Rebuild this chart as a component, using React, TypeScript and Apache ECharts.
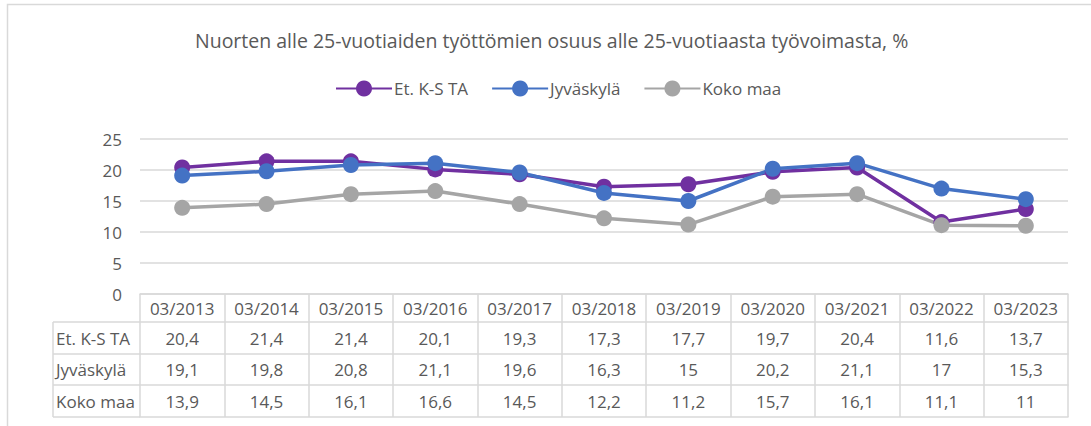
import React, { useEffect, useRef } from "react";
import * as echarts from "echarts";

const title = "Nuorten alle 25-vuotiaiden työttömien osuus alle 25-vuotiaasta työvoimasta, %";
const categories = ["03/2013", "03/2014", "03/2015", "03/2016", "03/2017", "03/2018", "03/2019", "03/2020", "03/2021", "03/2022", "03/2023"];
const seriesNames = ["Et. K-S TA", "Jyväskylä", "Koko maa"];
const etKsTa = [20.4, 21.4, 21.4, 20.1, 19.3, 17.3, 17.7, 19.7, 20.4, 11.6, 13.7];
const jyvaskyla = [19.1, 19.8, 20.8, 21.1, 19.6, 16.3, 15, 20.2, 21.1, 17, 15.3];
const kokoMaa = [13.9, 14.5, 16.1, 16.6, 14.5, 12.2, 11.2, 15.7, 16.1, 11.1, 11];
const yTicks = [0, 5, 10, 15, 20, 25];

const seriesData = [etKsTa, jyvaskyla, kokoMaa];
const colors = ["#7030A0", "#4472C4", "#A5A5A5"];

const FONT = "Open Sans";
const TXT = "#595959";
const BORDER = "#D9D9D9";
const W = 1091;
const H = 426;
const GRID_L = 140;
const GRID_R = 1068;
const GRID_T = 139;
const GRID_B = 294;
const HEADER_H = 28;
const ROW_OFFSETS = [28, 60, 91, 123];
const LABEL_COL_X = 53;

const fmt = (v: number) => String(v).replace(".", ",");

export default function App() {
  const ref = useRef<HTMLDivElement>(null);
  useEffect(() => {
    if (!ref.current) return;
    const chart = echarts.init(ref.current, undefined, { renderer: "svg" });

    const xAxes: any[] = [
      {
        type: "category",
        data: categories,
        position: "bottom",
        boundaryGap: true,
        axisLine: { show: true, lineStyle: { color: BORDER, width: 1.5 } },
        axisTick: { show: true, length: HEADER_H, inside: false, lineStyle: { color: BORDER, width: 1.5 } },
        axisLabel: { margin: 0, lineHeight: HEADER_H, color: TXT, fontFamily: FONT, fontSize: 17, interval: 0 },
      },
    ];
    seriesData.forEach((d, i) => {
      const rowH = ROW_OFFSETS[i + 1] - ROW_OFFSETS[i];
      xAxes.push({
        type: "category",
        data: d.map(fmt),
        position: "bottom",
        offset: ROW_OFFSETS[i],
        boundaryGap: true,
        axisLine: { show: true, lineStyle: { color: BORDER, width: 1.5 } },
        axisTick: { show: true, length: rowH, inside: false, lineStyle: { color: BORDER, width: 1.5 } },
        axisLabel: { margin: 0, lineHeight: rowH, color: TXT, fontFamily: FONT, fontSize: 17, interval: 0 },
        name: seriesNames[i],
        nameLocation: "start",
        nameGap: GRID_L - (LABEL_COL_X + 3),
        nameTextStyle: { align: "left", verticalAlign: "top", lineHeight: rowH, color: TXT, fontFamily: FONT, fontSize: 17 },
      });
    });
    xAxes.push({
      type: "category",
      data: categories.map(() => ""),
      position: "bottom",
      offset: ROW_OFFSETS[3],
      axisLine: { show: true, lineStyle: { color: BORDER, width: 1.5 } },
      axisTick: { show: false },
      axisLabel: { show: false },
    });

    const graphics: any[] = [
      { type: "rect", shape: { x: 7.5, y: 4.5, width: 1200, height: 600 }, style: { fill: "none", stroke: BORDER, lineWidth: 1.5 }, silent: true },
      { type: "line", shape: { x1: LABEL_COL_X, y1: GRID_B + ROW_OFFSETS[0], x2: LABEL_COL_X, y2: GRID_B + ROW_OFFSETS[3] }, style: { stroke: BORDER, lineWidth: 1.5 } },
    ];
    ROW_OFFSETS.forEach((o) => {
      graphics.push({ type: "line", shape: { x1: LABEL_COL_X, y1: GRID_B + o, x2: GRID_L, y2: GRID_B + o }, style: { stroke: BORDER, lineWidth: 1.5 } });
    });

    chart.setOption({
      animation: false,
      backgroundColor: "#fff",
      title: {
        text: title,
        left: 190,
        top: 25,
        textStyle: { color: TXT, fontFamily: FONT, fontSize: 19.5, fontWeight: "normal" },
      },
      legend: {
        data: seriesNames,
        top: 75,
        left: 330,
        itemWidth: 56,
        itemHeight: 20,
        itemGap: 23,
        textStyle: { color: TXT, fontFamily: FONT, fontSize: 17, padding: [0, 0, 0, -3] },
      },
      grid: { left: GRID_L, right: W - GRID_R, top: GRID_T, bottom: H - GRID_B, containLabel: false },
      xAxis: xAxes,
      yAxis: {
        type: "value",
        min: yTicks[0],
        max: yTicks[yTicks.length - 1],
        interval: 5,
        axisLine: { show: false },
        axisTick: { show: false },
        axisLabel: { color: TXT, fontFamily: FONT, fontSize: 17, margin: 18 },
        splitLine: { lineStyle: { color: BORDER, width: 1.5 } },
      },
      series: seriesData.map((d, i) => ({
        name: seriesNames[i],
        type: "line",
        data: d,
        xAxisIndex: 0,
        symbol: "circle",
        symbolSize: 16,
        color: colors[i],
        lineStyle: { width: 3.5, color: colors[i] },
        itemStyle: { color: colors[i] },
      })),
      graphic: graphics,
    });
    return () => chart.dispose();
  }, []);
  return <div ref={ref} style={{ position: "fixed", left: 0, top: 0, width: W, height: H }} />;
}
